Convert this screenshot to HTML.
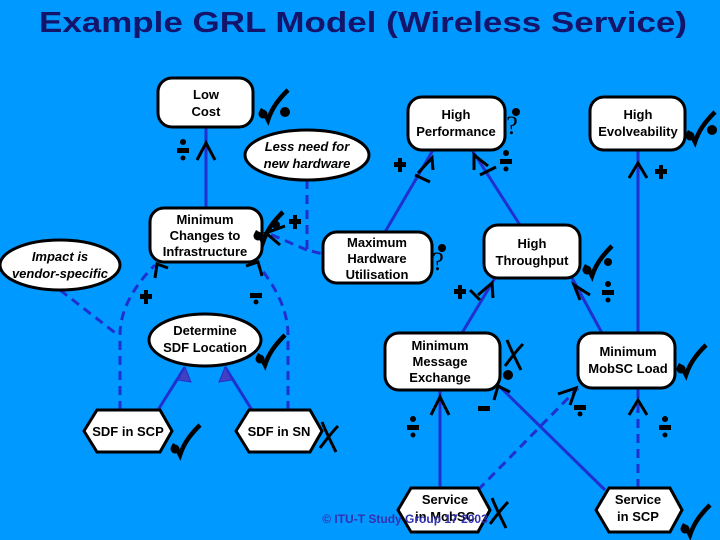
<!DOCTYPE html>
<html><head><meta charset="utf-8"><style>
html,body{margin:0;padding:0;background:#0099ff;}
svg{display:block}
text{font-family:"Liberation Sans",sans-serif;font-weight:bold;font-size:13px;fill:#000;text-anchor:middle}
.it{font-style:italic}
</style></head><body>
<svg width="720" height="540" viewBox="0 0 720 540">
<defs>
<g id="chk"><path d="M0,10 C4,12 6,16 8,20 C12,8 18,0 28,-10" fill="none" stroke="#000" stroke-width="4.5"/><circle cx="3" cy="14" r="4.5"/></g>
<g id="xx"><path d="M4,-10 C8,0 14,12 18,20 M2,16 C8,8 14,0 20,-6" fill="none" stroke="#000" stroke-width="3"/></g>
<g id="plus"><rect x="-2" y="-7" width="4" height="14"/><rect x="-6" y="-3" width="12" height="5"/></g>
<g id="pq"><circle cx="0" cy="-8" r="3"/><rect x="-6" y="-2" width="12" height="5"/><circle cx="0" cy="8" r="2.5"/></g>
<g id="ques"><circle cx="4" cy="-14" r="4"/><text x="0" y="8" style="font-family:'Liberation Serif',serif;font-size:26px;font-weight:normal;fill:#000">?</text></g>
</defs>
<text x="363" y="32" textLength="648" lengthAdjust="spacingAndGlyphs" style="font-size:29px;fill:#14146a;font-family:'Liberation Sans',sans-serif">Example GRL Model (Wireless Service)</text>

<g stroke="#2030d0" stroke-width="3" fill="none">
<line x1="206" y1="127" x2="206" y2="208"/>
<line x1="385" y1="232" x2="433" y2="150"/>
<line x1="520" y1="225" x2="472" y2="150"/>
<line x1="638" y1="150" x2="638" y2="333"/>
<line x1="462" y1="333" x2="495" y2="278"/>
<line x1="602" y1="333" x2="572" y2="278"/>
<line x1="440" y1="488" x2="440" y2="390"/>
<line x1="605" y1="490" x2="498" y2="385"/>
<line x1="158" y1="410" x2="185" y2="367"/>
<line x1="252" y1="410" x2="225" y2="367"/>
</g>
<g stroke="#2030d0" stroke-width="3" fill="none" stroke-dasharray="9,6">
<path d="M307,180 L307,250 L323,254"/>
<path d="M307,250 L265,232"/>
<path d="M60,290 L118,335"/>
<path d="M120,410 L120,335 C120,305 140,280 155,265"/>
<path d="M288,410 L288,335 C288,305 270,280 258,265"/>
<line x1="478" y1="490" x2="578" y2="388"/>
<line x1="638" y1="488" x2="638" y2="388"/>
</g>
<g fill="#4040c0" stroke="#2030d0" stroke-width="1">
<path d="M185,367 L178,380 L191,382Z"/><path d="M225,367 L219,382 L232,380Z"/>
</g>
<g stroke="#000" stroke-width="3" fill="none">
<path d="M197,160 L206,143 L215,160"/>
<path d="M629,178 L638,163 L647,178"/>
<path d="M431,415 L440,397 L449,415"/>
<path d="M629,415 L638,400 L647,415"/>
<path d="M418,173 L432,158 L433,170 M415,175 L430,182"/>
<path d="M474,170 L474,155 L488,166 M480,175 L496,167"/>
<path d="M478,295 L492,283 L493,298 M470,290 L480,300"/>
<path d="M590,295 L574,285 L580,300"/>
<path d="M494,400 L498,386 L510,392"/>
<path d="M558,394 L576,388 L570,405"/>
<path d="M155,278 L157,264 L168,268"/>
<path d="M246,266 L258,262 L262,276"/>
<path d="M285,226 L266,233 L280,245"/>
</g>

<g fill="#fff" stroke="#000" stroke-width="3">
<rect x="158" y="78" width="95" height="49" rx="14"/>
<ellipse cx="307" cy="155" rx="62" ry="25"/>
<rect x="150" y="208" width="112" height="54" rx="14"/>
<ellipse cx="60" cy="265" rx="60" ry="25"/>
<rect x="408" y="97" width="97" height="53" rx="14"/>
<rect x="590" y="97" width="95" height="53" rx="14"/>
<rect x="323" y="232" width="109" height="51" rx="14"/>
<rect x="484" y="225" width="96" height="53" rx="14"/>
<ellipse cx="205" cy="340" rx="56" ry="26"/>
<rect x="385" y="333" width="115" height="57" rx="14"/>
<rect x="578" y="333" width="97" height="55" rx="14"/>
<path d="M84,431 L97,410 L160,410 L172,431 L160,452 L97,452Z"/>
<path d="M236,431 L249,410 L310,410 L322,431 L310,452 L249,452Z"/>
<path d="M398,510 L411,488 L478,488 L490,510 L478,532 L411,532Z"/>
<path d="M596,510 L609,488 L670,488 L682,510 L670,532 L609,532Z"/>
</g>

<text x="206" y="99">Low</text><text x="206" y="116">Cost</text>
<text class="it" x="307" y="151">Less need for</text><text class="it" x="307" y="168">new hardware</text>
<text x="205" y="224">Minimum</text><text x="205" y="240">Changes to</text><text x="205" y="256">Infrastructure</text>
<text class="it" x="60" y="261">Impact is</text><text class="it" x="60" y="278">vendor-specific</text>
<text x="456" y="119">High</text><text x="456" y="136">Performance</text>
<text x="638" y="119">High</text><text x="638" y="136">Evolveability</text>
<text x="377" y="247">Maximum</text><text x="377" y="263">Hardware</text><text x="377" y="279">Utilisation</text>
<text x="532" y="248">High</text><text x="532" y="265">Throughput</text>
<text x="205" y="335">Determine</text><text x="205" y="352">SDF Location</text>
<text x="440" y="350">Minimum</text><text x="440" y="366">Message</text><text x="440" y="382">Exchange</text>
<text x="628" y="356">Minimum</text><text x="628" y="373">MobSC Load</text>
<text x="128" y="436">SDF in SCP</text>
<text x="279" y="436">SDF in SN</text>
<text x="445" y="504">Service</text><text x="445" y="521">in MobSC</text>
<text x="638" y="504">Service</text><text x="638" y="521">in SCP</text>

<use href="#chk" x="260" y="100"/><circle cx="285" cy="112" r="5"/>
<use href="#chk" x="255" y="222"/><circle cx="276" cy="225" r="4"/><use href="#plus" x="295" y="222"/>
<use href="#ques" x="512" y="126"/>
<use href="#chk" x="687" y="122"/><circle cx="712" cy="130" r="5"/>
<use href="#ques" x="438" y="262"/>
<use href="#chk" x="584" y="256"/><circle cx="608" cy="262" r="4"/>
<use href="#chk" x="257" y="345"/>
<use href="#xx" x="503" y="350"/><circle cx="508" cy="375" r="5"/>
<use href="#chk" x="678" y="355"/>
<use href="#chk" x="172" y="435"/>
<use href="#xx" x="318" y="432"/>
<use href="#xx" x="488" y="508"/>
<use href="#chk" x="682" y="515"/>
<use href="#pq" x="183" y="150"/>
<use href="#plus" x="400" y="165"/>
<use href="#pq" x="506" y="161"/>
<use href="#plus" x="661" y="172"/>
<use href="#plus" x="146" y="297"/>
<rect x="250" y="293" width="12" height="5"/><circle cx="256" cy="302" r="2.5"/>
<use href="#plus" x="460" y="292"/>
<use href="#pq" x="608" y="292"/>
<use href="#pq" x="413" y="427"/>
<rect x="478" y="406" width="12" height="5"/>
<rect x="574" y="405" width="12" height="5"/><circle cx="580" cy="414" r="2.5"/>
<use href="#pq" x="665" y="427"/>

<text x="405" y="523" style="font-size:12px;fill:#3030b0;font-weight:bold">© ITU-T Study Group 17 2003</text>
</svg>
</body></html>
